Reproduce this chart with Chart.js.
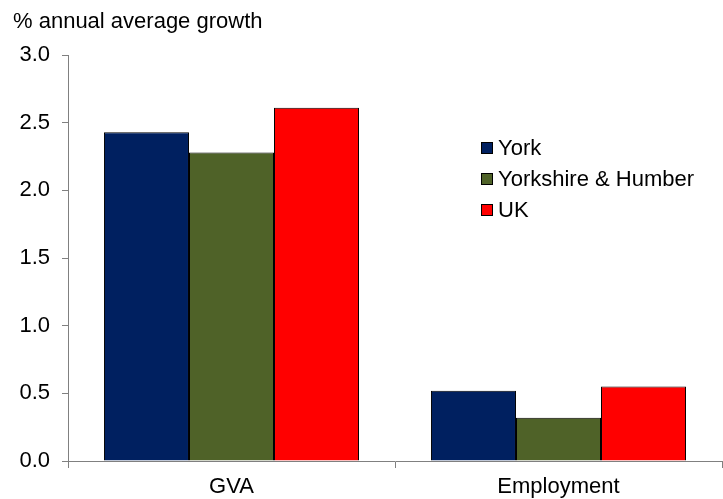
<!DOCTYPE html>
<html>
<head>
<meta charset="utf-8">
<script src="https://cdn.jsdelivr.net/npm/chart.js@4"></script>
<style>
  body { margin: 0; background: #fff; }
  #wrap { position: relative; width: 723px; height: 499px; }
  #unit { position: absolute; left: 13px; top: 10px; font: 22px/22px 'Liberation Sans', Arial, sans-serif; color: #000; white-space: nowrap; }
  #legend { position: absolute; left: 481px; top: 132px; font: 22px 'Liberation Sans', Arial, sans-serif; color: #000; }
  #legend div { height: 31px; line-height: 31px; white-space: nowrap; }
  #legend span { display: inline-block; width: 10px; height: 10px; border: 1px solid #000; margin-right: 5px; vertical-align: 1px; }
</style>
</head>
<body>
<div id="wrap">
  <canvas id="growth" width="723" height="499"></canvas>
  <div id="unit">% annual average growth</div>
  <div id="legend"></div>
</div>
<script>
// Annual average growth, GVA and employment
var categories = ['GVA', 'Employment'];
var seriesNames = ['York', 'Yorkshire & Humber', 'UK'];
var york = [2.43, 0.52];
var yorkshire = [2.28, 0.32];
var uk = [2.61, 0.55];
var yTicks = [0, 0.5, 1.0, 1.5, 2.0, 2.5, 3.0];

var colours = ['#002060', '#4F6228', '#FF0000'];
var values = [york, yorkshire, uk];

var datasets = seriesNames.map(function (name, i) {
    return {
        label: name,
        data: values[i],
        backgroundColor: colours[i],
        borderColor: '#000',
        borderWidth: 1,
        categoryPercentage: 0.78,
        barPercentage: 1.0
    };
});

var font = { family: "'Liberation Sans', Arial, sans-serif", size: 22 };

new Chart(document.getElementById('growth'), {
    type: 'bar',
    data: { labels: categories, datasets: datasets },
    options: {
        responsive: false,
        animation: false,
        layout: { padding: { top: 55, right: 1, left: 0, bottom: 0 } },
        plugins: {
            legend: { display: false },
            tooltip: { enabled: false }
        },
        scales: {
            y: {
                min: 0,
                max: 3,
                afterBuildTicks: function (scale) {
                    scale.ticks = yTicks.map(function (v) { return { value: v }; });
                },
                afterFit: function (scale) { scale.width = 68; },
                ticks: {
                    color: '#000',
                    font: font,
                    padding: 12,
                    callback: function (v) { return Number(v).toFixed(1); }
                },
                grid: {
                    drawOnChartArea: false,
                    tickLength: 6,
                    color: '#808080'
                },
                border: { color: '#808080', width: 1 }
            },
            x: {
                afterFit: function (scale) { scale.height = 38; },
                ticks: { color: '#000', font: font, padding: 6 },
                grid: {
                    offset: true,
                    drawOnChartArea: false,
                    tickLength: 7,
                    color: '#808080'
                },
                border: { color: '#808080', width: 1 }
            }
        }
    }
});

// legend built from the datasets
var legend = document.getElementById('legend');
datasets.forEach(function (ds) {
    var row = document.createElement('div');
    var box = document.createElement('span');
    box.style.background = ds.backgroundColor;
    row.appendChild(box);
    row.appendChild(document.createTextNode(ds.label));
    legend.appendChild(row);
});
</script>
</body>
</html>
